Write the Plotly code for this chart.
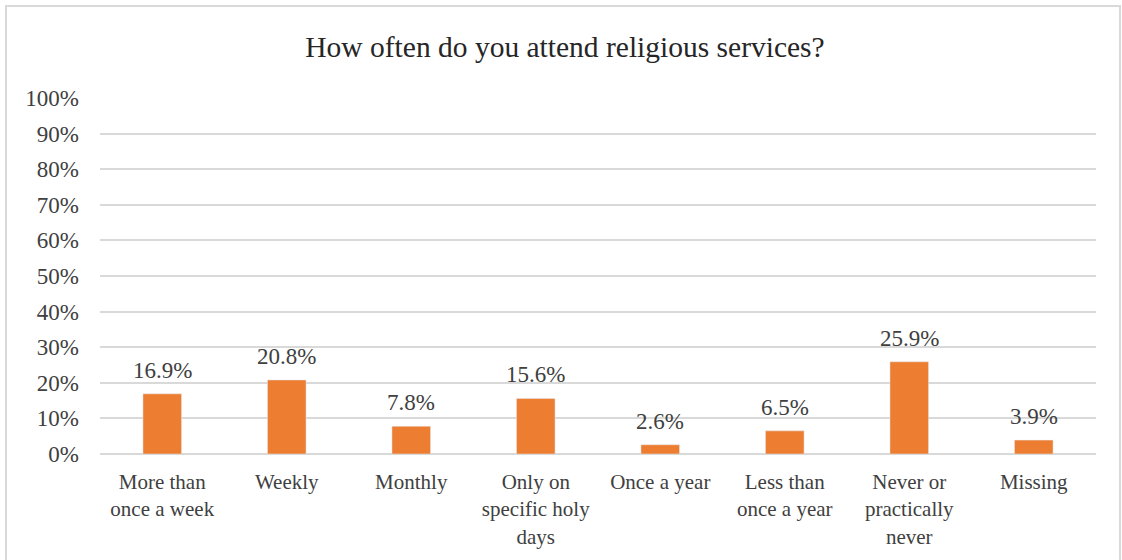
import plotly.graph_objects as go

categories = ["More than<br>once a week", "Weekly", "Monthly", "Only on<br>specific holy<br>days",
              "Once a year", "Less than<br>once a year", "Never or<br>practically<br>never", "Missing"]
values = [16.9, 20.8, 7.8, 15.6, 2.6, 6.5, 25.9, 3.9]
tick_vals = list(range(0, 101, 10))
tick_text = [f"{v}%" for v in tick_vals]

FONT = "Liberation Serif, Times New Roman, serif"
W, H = 1122, 560
L, R, T, B = 100, 26, 98, 106

fig = go.Figure(go.Bar(x=categories, y=values, marker_color="#ED7D31", width=0.31,
                       hoverinfo="skip"))

for c, v in zip(categories, values):
    fig.add_annotation(x=c, y=v, text=f"{v:.1f}%", showarrow=False, yanchor="bottom",
                       yshift=9, font=dict(family=FONT, size=23, color="#404040"))

pw = W - L - R
ph = H - T - B
fig.add_shape(type="rect", xref="paper", yref="paper",
              x0=(6 - L) / pw, x1=(1120 - L) / pw, y0=-(H + 10 - T - ph) / ph, y1=1 + (T - 6) / ph,
              line=dict(color="#d9d9d9", width=2), fillcolor="rgba(0,0,0,0)", layer="below")

fig.update_layout(
    width=W, height=H, margin=dict(l=L, r=R, t=T, b=B, autoexpand=False),
    paper_bgcolor="white", plot_bgcolor="white",
    title=dict(text="How often do you attend religious services?", x=(565 - L) / pw, xref="paper",
               xanchor="center", y=1 - 47 / H, yanchor="middle",
               font=dict(family=FONT, size=29.5, color="#262626")),
    bargap=0.69, showlegend=False,
    xaxis=dict(tickfont=dict(family=FONT, size=21, color="#404040"), showgrid=False,
               showline=False, ticks="", ticklabelstandoff=13, automargin=False, fixedrange=True),
    yaxis=dict(range=[0, 100], tickvals=tick_vals, ticktext=tick_text,
               tickfont=dict(family=FONT, size=23, color="#404040"),
               gridcolor="#d9d9d9", gridwidth=1.5, zeroline=True, zerolinecolor="#d9d9d9",
               zerolinewidth=1.5, showline=False, ticks="", ticklabelstandoff=20,
               automargin=False, fixedrange=True),
)
fig.write_html("out.html")
